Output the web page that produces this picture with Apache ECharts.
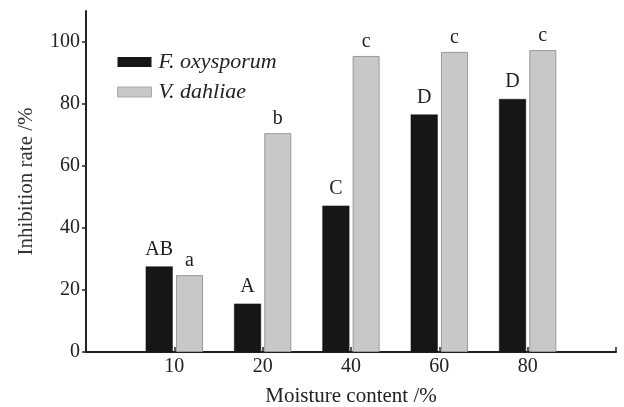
<!DOCTYPE html>
<html><head><meta charset="utf-8">
<script src="https://cdn.jsdelivr.net/npm/echarts@6/dist/echarts.min.js"></script>
<style>html,body{margin:0;padding:0;background:#fff}#c{width:624px;height:407px}</style>
</head><body><div id="c"></div>
<script>
var categories = ['', '10', '20', '40', '60', '80', ''];
var fOxysporum = [null, 27.6, 15.6, 47.2, 76.6, 81.6, null];
var vDahliae = [null, 24.8, 70.6, 95.5, 96.8, 97.4, null];
var fLetters = ['', 'AB', 'A', 'C', 'D', 'D', ''];
var vLetters = ['', 'a', 'b', 'c', 'c', 'c', ''];
var yTicks = [0, 20, 40, 60, 80, 100];

var serif = 'Liberation Serif';
var chart = echarts.init(document.getElementById('c'));
function mk(vals, letters) {
  return vals.map(function (v, i) { return { value: v, letter: letters[i] }; });
}
chart.setOption({
  animation: false,
  backgroundColor: '#ffffff',
  grid: { left: 86, right: 8, top: 11, bottom: 55, containLabel: false, outerBoundsMode: 'none' },
  legend: {
    orient: 'vertical', left: 112, top: 46, itemWidth: 34, itemHeight: 10, itemGap: 8,
    icon: 'rect',
    textStyle: { fontFamily: serif, fontStyle: 'italic', fontSize: 22, color: '#222', padding: [0, 0, 0, 2] },
    data: [
      { name: 'F. oxysporum', itemStyle: { borderWidth: 0 } },
      { name: 'V. dahliae', itemStyle: { borderColor: '#aaa', borderWidth: 1 } }
    ]
  },
  xAxis: {
    type: 'category', data: categories, boundaryGap: false,
    name: 'Moisture content /%', nameLocation: 'middle', nameGap: 34,
    nameTextStyle: { fontFamily: serif, fontSize: 21, color: '#222' },
    axisLine: { lineStyle: { color: '#222', width: 2 } },
    axisTick: { inside: true, length: 5, lineStyle: { color: '#222', width: 1.5 } },
    axisLabel: { fontFamily: serif, fontSize: 20, color: '#222', margin: 5 }
  },
  yAxis: {
    type: 'value', min: 0, max: 110, interval: 10,
    name: 'Inhibition rate /%', nameLocation: 'middle', nameGap: 49,
    nameTextStyle: { fontFamily: serif, fontSize: 21, color: '#333' },
    axisLine: { show: true, lineStyle: { color: '#222', width: 2 } },
    axisTick: { show: true, length: 4, customValues: yTicks, lineStyle: { color: '#222', width: 1.5 } },
    axisLabel: { customValues: yTicks, fontFamily: serif, fontSize: 20, color: '#222', margin: 6 },
    splitLine: { show: false }
  },
  series: [
    {
      name: 'F. oxysporum', type: 'bar', barWidth: 27, barGap: '12%',
      data: mk(fOxysporum, fLetters),
      itemStyle: { color: '#161616', borderColor: '#111', borderWidth: 0.5 },
      label: { show: true, position: 'top', distance: 7, fontFamily: serif, fontSize: 20, color: '#222',
        formatter: function (p) { return p.data.letter; } }
    },
    {
      name: 'V. dahliae', type: 'bar', barWidth: 27,
      data: mk(vDahliae, vLetters),
      itemStyle: { color: '#c8c8c8', borderColor: '#999', borderWidth: 1 },
      label: { show: true, position: 'top', distance: 4, fontFamily: serif, fontSize: 20, color: '#222',
        formatter: function (p) { return p.data.letter; } }
    }
  ]
});
var top = chart.convertToPixel({ xAxisIndex: 0, yAxisIndex: 0 }, [0, 110]);
chart.setOption({
  graphic: [{ type: 'line', shape: { x1: top[0], y1: top[1] + 0.5, x2: top[0] + 5, y2: top[1] + 0.5 },
    style: { stroke: '#222', lineWidth: 1.5 } }]
});
</script></body></html>
